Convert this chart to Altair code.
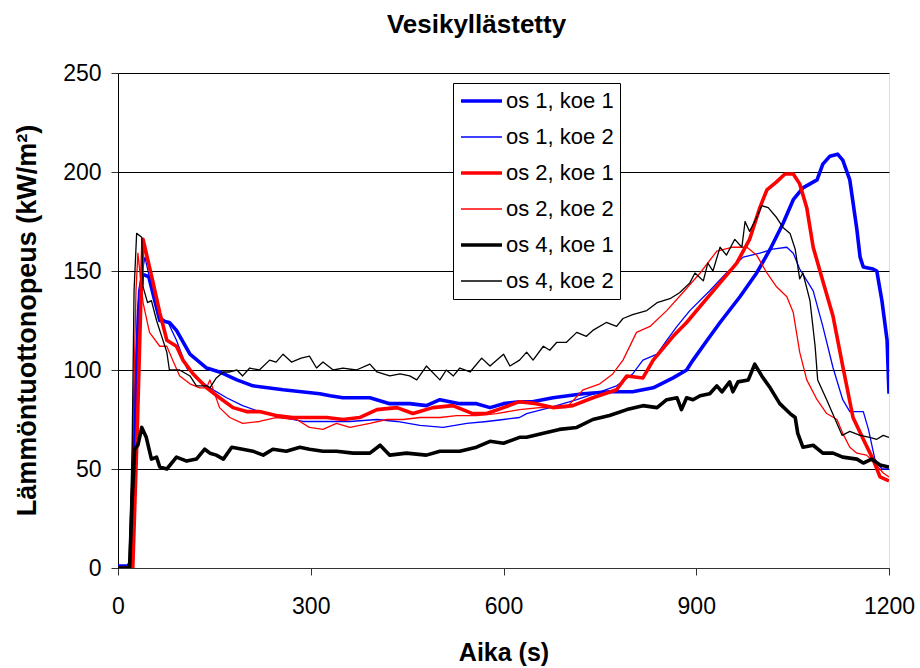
import altair as alt
import pandas as pd

FONT = "Liberation Sans"

series_names = ["os 1, koe 1", "os 1, koe 2", "os 2, koe 1", "os 2, koe 2", "os 4, koe 1", "os 4, koe 2"]
series_colors = ["#0000FF", "#0000FF", "#FF0000", "#FF0000", "#000000", "#000000"]
series_widths = [3.6, 1.3, 3.6, 1.3, 3.6, 1.3]

# os 1, koe 1
t_o1k1 = [0, 15, 20, 26, 32, 38, 41, 48, 65, 80, 91, 112, 138, 158, 185, 210, 257, 314, 330, 350, 392, 423, 454, 480,
          501, 532, 558, 579, 600, 625, 645, 677, 724, 765, 801, 833, 864, 885, 895, 917, 937, 968, 994, 1015, 1035,
          1051, 1066, 1088, 1097, 1108, 1120, 1128, 1139, 1150, 1155, 1160, 1175, 1181, 1189, 1197, 1200]
v_o1k1 = [1, 1, 3, 70, 130, 148, 148, 147, 125, 124, 120, 108, 101, 99, 95, 92, 90, 88, 87, 86, 86, 83, 83, 82,
          85, 83, 83, 81, 83, 84, 84, 86, 88, 89, 89, 91, 96, 100, 105, 115, 124, 137, 149, 161, 174,
          186, 192, 196, 204, 208, 209, 206, 196, 171, 157, 152, 151, 150, 135, 115, 88]

# os 1, koe 2
t_o1k2 = [0, 20, 26, 32, 42, 54, 65, 78, 91, 107, 122, 143, 169, 194, 220, 257, 288, 314, 330, 361, 403, 434, 470,
          506, 543, 574, 600, 625, 636, 672, 714, 750, 776, 801, 817, 839, 854, 870, 890, 921, 947, 973, 999, 1019,
          1041, 1051, 1061, 1082, 1097, 1113, 1128, 1139, 1160, 1168, 1178, 1189, 1200]
v_o1k2 = [0, 0, 90, 140, 157, 139, 127, 124, 115, 101, 96, 91, 86, 82, 79, 76, 74, 74, 74, 74, 75, 74, 72,
          71, 73, 74, 75, 76, 78, 81, 85, 89, 92, 98, 105, 108, 115, 122, 130, 140, 149, 157, 159, 161,
          162, 159, 151, 140, 122, 101, 85, 79, 79, 70, 55, 50, 50]

# os 2, koe 1
t_o2k1 = [0, 23, 30, 36, 39, 54, 65, 76, 91, 101, 117, 138, 158, 179, 200, 220, 246, 272, 314, 325, 350, 376, 403,
          434, 459, 490, 521, 552, 574, 600, 625, 651, 677, 708, 739, 776, 792, 817, 833, 864, 885, 911, 937, 963,
          983, 999, 1010, 1025, 1038, 1051, 1061, 1072, 1082, 1097, 1113, 1128, 1144, 1160, 1175, 1186, 1200]
v_o2k1 = [0, 0, 70, 140, 166, 145, 129, 115, 112, 105, 98, 91, 86, 81, 79, 79, 77, 76, 76, 76, 75, 76, 80,
          81, 78, 81, 82, 78, 78, 81, 84, 83, 81, 82, 86, 90, 97, 96, 105, 117, 124, 134, 144, 154,
          166, 182, 191, 195, 199, 199, 194, 182, 162, 145, 127, 102, 76, 65, 55, 46, 44]

# os 2, koe 2
t_o2k2 = [0, 18, 24, 28, 31, 39, 49, 65, 76, 85, 96, 112, 127, 138, 143, 158, 174, 194, 220, 246, 278, 298, 319,
          340, 361, 392, 418, 444, 470, 501, 527, 558, 589, 625, 656, 698, 724, 750, 770, 786, 807, 828, 854, 879,
          906, 932, 957, 979, 994, 1010, 1025, 1041, 1051, 1061, 1072, 1088, 1103, 1119, 1128, 1139, 1150, 1165,
          1178, 1191, 1200]
v_o2k2 = [0, 0, 80, 140, 159, 134, 119, 112, 112, 105, 97, 93, 91, 91, 95, 81, 76, 73, 74, 76, 75, 71, 70,
          73, 71, 73, 75, 75, 76, 76, 77, 77, 78, 80, 81, 81, 90, 93, 98, 105, 119, 122, 130, 139,
          149, 160, 162, 162, 158, 149, 142, 137, 129, 109, 95, 85, 78, 75, 68, 61, 58, 57,
          53, 48, 46]

# os 4, koe 1
t_o4k1 = [0, 18, 22, 26, 31, 37, 44, 52, 60, 65, 76, 91, 107, 122, 135, 143, 153, 164, 177, 194, 210, 226, 241,
          262, 283, 298, 319, 340, 366, 392, 408, 423, 449, 480, 501, 532, 558, 579, 600, 625, 636, 662, 687, 714,
          739, 765, 792, 817, 839, 854, 870, 877, 885, 895, 906, 921, 932, 940, 952, 957, 965, 981, 991, 1002,
          1015, 1030, 1046, 1054, 1058, 1066, 1082, 1097, 1113, 1128, 1150, 1160, 1173, 1186, 1200]
v_o4k1 = [0, 0, 34, 60, 62, 71, 66, 55, 56, 51, 50, 56, 54, 55, 60, 58, 57, 55, 61, 60, 59, 57, 60,
          59, 61, 60, 59, 59, 58, 58, 62, 57, 58, 57, 59, 59, 61, 64, 63, 66, 66, 68, 70, 71,
          75, 77, 80, 82, 81, 85, 86, 80, 86, 85, 87, 88, 92, 89, 94, 89, 94, 95, 103, 97,
          91, 83, 78, 76, 68, 61, 62, 58, 58, 56, 55, 53, 55, 52, 51]

# os 4, koe 2
t_o4k2 = [0, 17, 22, 25, 29, 37, 39, 46, 52, 60,
          68, 76, 80, 96, 112, 122, 138, 143, 153, 164,
          174, 185, 194, 205, 220, 236, 246, 257, 270, 285,
          298, 309, 319, 335, 350, 371, 392, 403, 423, 439,
          454, 465, 480, 501, 511, 522, 532, 548, 566, 579,
          600, 610, 625, 636, 646, 662, 672, 683, 698, 714,
          729, 739, 760, 776, 786, 801, 823, 839, 859, 874,
          890, 898, 911, 918, 926, 937, 947, 960, 971, 976,
          983, 994, 1002, 1012, 1025, 1035, 1046, 1054, 1061, 1066,
          1077, 1085, 1089, 1103, 1119, 1127, 1139, 1155, 1170, 1181,
          1191, 1200]
v_o4k2 = [0, 0, 60, 140, 169, 167, 142, 134, 135, 125,
          117, 109, 100, 100, 97, 92, 92, 91, 96, 99,
          99, 100, 97, 101, 100, 105, 104, 108, 104, 106,
          107, 101, 104, 100, 101, 100, 103, 99, 97, 98,
          97, 95, 102, 95, 100, 97, 101, 99, 106, 102,
          108, 102, 105, 109, 105, 112, 110, 114, 114, 119,
          117, 120, 124, 122, 126, 128, 130, 134, 136, 139,
          144, 149, 145, 154, 150, 162, 158, 166, 162, 175,
          170, 177, 183, 182, 177, 172, 169, 161, 146, 149,
          135, 112, 95, 85, 73, 67, 69, 67, 66, 65,
          67, 66]

x_ticks = [0, 300, 600, 900, 1200]
y_ticks = [0, 50, 100, 150, 200, 250]

series_data = [(t_o1k1, v_o1k1), (t_o1k2, v_o1k2), (t_o2k1, v_o2k1),
               (t_o2k2, v_o2k2), (t_o4k1, v_o4k1), (t_o4k2, v_o4k2)]

rows = []
for idx, (name, (ts, vs)) in enumerate(zip(series_names, series_data)):
    for i, (t, v) in enumerate(zip(ts, vs)):
        rows.append({"series": name, "order": idx, "i": i, "t": t, "v": v})
df = pd.DataFrame(rows)

legend_kw = dict(title=None, orient="none", legendX=335, legendY=10,
                 symbolType="stroke", symbolSize=1681, labelFont=FONT,
                 labelFontSize=22, labelColor="#000", padding=6,
                 strokeColor="#000", fillColor="#fff", rowPadding=12,
                 clipHeight=24, labelOffset=2, labelLimit=300)

chart = alt.Chart(df).mark_line(clip=True, strokeJoin="round").encode(
    x=alt.X("t:Q", scale=alt.Scale(domain=[0, 1200], nice=False),
            axis=alt.Axis(values=x_ticks, title="Aika (s)", grid=False, format="d",
                          labelFont=FONT, labelFontSize=23, labelColor="#000",
                          titleFont=FONT, titleFontSize=25, titleFontWeight="bold", titleColor="#000",
                          tickSize=7, tickColor="#333", domainColor="#333", labelPadding=20,
                          titlePadding=22, labelFlush=False)),
    y=alt.Y("v:Q", scale=alt.Scale(domain=[0, 250], nice=False),
            axis=alt.Axis(values=y_ticks, title="Lämmöntuottonopeus (kW/m²)", grid=True,
                          gridColor="#000", gridWidth=1,
                          labelFont=FONT, labelFontSize=23, labelColor="#000",
                          titleFont=FONT, titleFontSize=27, titleFontWeight="bold", titleColor="#000",
                          tickSize=7, tickColor="#333", domainColor="#000", labelPadding=10,
                          titleX=-91, titleY=247, titleAngle=270, titleBaseline="middle",
                          titleAlign="center")),
    color=alt.Color("series:N", scale=alt.Scale(domain=series_names, range=series_colors),
                    legend=alt.Legend(**legend_kw)),
    strokeWidth=alt.StrokeWidth("series:N",
                                scale=alt.Scale(type="ordinal", domain=series_names, range=series_widths),
                                legend=alt.Legend(**legend_kw)),
    detail="series:N",
    order="i:Q",
).properties(
    width=771,
    height=495,
    title=alt.TitleParams("Vesikyllästetty", font=FONT, fontSize=26, fontWeight="bold",
                          color="#000", anchor="middle", dx=-27, offset=24),
    autosize=alt.AutoSizeParams(type="none"),
    padding={"left": 118, "top": 73, "right": 31, "bottom": 100},
).configure_view(
    stroke="#808080", strokeWidth=1
).configure(background="#ffffff")

chart.save("out.html", embed_options={"renderer": "svg", "actions": False})
